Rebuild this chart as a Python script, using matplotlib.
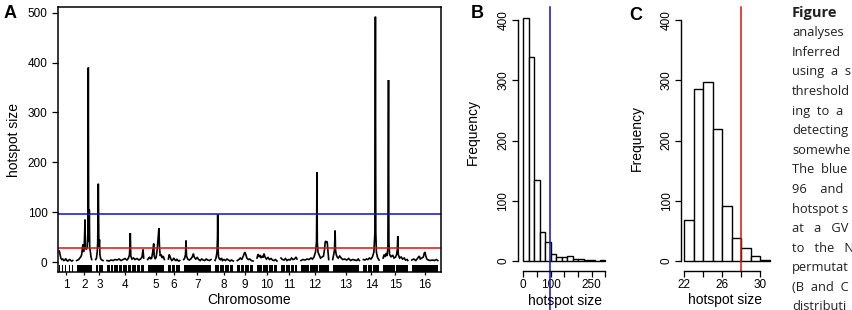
import matplotlib
matplotlib.use("Agg")
import matplotlib.pyplot as plt
import numpy as np

plt.rcParams["font.family"] = ["Liberation Sans", "DejaVu Sans"]

W, H = 852, 310

# ---- panel A: genome-wide hotspot profile ----
chrom_names = [str(i) for i in range(1, 17)]
chrom_len = [134, 150, 73, 367, 167, 113, 273, 183, 157, 200, 160, 277, 267, 157, 247, 260]
chrom_gap = 40
first_start = 13

# (position within chromosome, hotspot size)
profiles = [
    [(0, 22), (8, 15), (15, 8), (25, 5), (35, 6), (45, 3), (55, 4), (65, 7), (75, 3),
     (85, 2), (95, 4), (105, 5), (115, 3), (125, 2), (134, 3)],
    [(0, 3), (10, 4), (20, 5), (30, 8), (40, 10), (50, 15), (55, 25), (62, 35), (68, 20),
     (75, 30), (80, 60), (83, 85), (86, 30), (95, 25), (105, 30), (112, 60), (116, 390),
     (120, 40), (124, 60), (126, 105), (130, 30), (137, 20), (143, 10), (150, 5)],
    [(0, 5), (8, 8), (15, 20), (20, 40), (24, 100), (26, 157), (29, 95), (32, 30), (38, 45),
     (42, 15), (48, 8), (55, 5), (62, 4), (73, 3)],
    [(0, 3), (20, 2), (40, 4), (60, 3), (80, 5), (100, 4), (120, 6), (140, 3), (160, 5),
     (180, 7), (200, 4), (215, 8), (225, 15), (233, 58), (238, 12), (250, 6), (265, 8),
     (280, 5), (300, 7), (320, 4), (335, 6), (350, 10), (360, 25), (367, 8)],
    [(0, 5), (10, 8), (20, 10), (30, 6), (40, 8), (50, 20), (60, 37), (65, 12), (75, 6),
     (85, 10), (95, 25), (105, 50), (112, 68), (118, 30), (125, 12), (135, 15), (145, 8),
     (155, 12), (167, 5)],
    [(0, 6), (8, 15), (15, 12), (25, 6), (35, 3), (45, 5), (55, 8), (65, 4), (75, 3),
     (85, 6), (95, 3), (105, 2), (113, 3)],
    [(0, 5), (10, 8), (18, 15), (23, 43), (28, 12), (40, 6), (55, 4), (70, 6), (85, 10),
     (97, 17), (105, 10), (120, 6), (135, 9), (150, 5), (165, 3), (180, 6), (195, 4),
     (210, 3), (225, 6), (240, 4), (255, 3), (273, 5)],
    [(0, 3), (10, 8), (20, 20), (25, 50), (27, 95), (30, 30), (35, 10), (45, 6), (55, 4),
     (65, 8), (75, 3), (90, 5), (105, 3), (120, 6), (135, 4), (150, 2), (165, 4), (183, 2)],
    [(0, 3), (15, 5), (30, 8), (45, 5), (60, 12), (75, 20), (85, 15), (95, 8), (110, 5),
     (125, 6), (140, 3), (157, 2)],
    [(0, 8), (10, 16), (20, 10), (30, 14), (40, 8), (50, 12), (60, 9), (70, 17), (80, 10),
     (95, 6), (110, 9), (125, 5), (140, 7), (155, 4), (170, 3), (185, 5), (200, 2)],
    [(0, 8), (15, 5), (30, 4), (45, 7), (60, 3), (75, 5), (90, 4), (105, 8), (120, 5),
     (135, 6), (150, 10), (160, 6)],
    [(0, 3), (20, 5), (40, 4), (60, 6), (80, 5), (100, 8), (115, 6), (130, 10), (145, 20),
     (155, 40), (160, 180), (163, 40), (170, 20), (180, 15), (195, 8), (210, 10), (225, 12),
     (235, 25), (242, 40), (248, 42), (254, 40), (262, 41), (268, 25), (277, 5)],
    [(0, 5), (10, 15), (18, 25), (24, 63), (28, 25), (35, 15), (45, 10), (55, 8), (70, 12),
     (85, 8), (100, 5), (120, 6), (140, 4), (160, 7), (180, 3), (200, 5), (220, 4),
     (240, 3), (255, 6), (267, 3)],
    [(0, 5), (15, 4), (30, 6), (45, 5), (60, 8), (75, 6), (90, 10), (105, 20), (115, 60),
     (120, 492), (124, 60), (130, 20), (140, 10), (150, 6), (157, 4)],
    [(0, 8), (10, 15), (20, 10), (30, 18), (40, 12), (48, 30), (54, 365), (58, 40), (65, 15),
     (80, 10), (95, 14), (110, 8), (125, 10), (135, 15), (142, 25), (147, 52), (152, 15),
     (165, 8), (180, 10), (195, 6), (210, 8), (225, 4), (240, 5), (247, 3)],
    [(0, 4), (20, 6), (40, 3), (60, 8), (75, 12), (85, 6), (100, 8), (115, 10), (125, 18),
     (132, 20), (140, 12), (150, 6), (165, 4), (185, 3), (205, 4), (225, 3), (245, 5),
     (260, 3)],
]

# marker rug: stretches of dense markers within each chromosome
marker_blocks = [
    [(0, 5), (15, 20), (30, 34), (45, 50), (60, 64), (72, 76), (85, 90), (100, 104), (112, 116), (125, 134)],
    [(0, 60), (64, 150)],
    [(0, 25), (30, 50), (55, 73)],
    [(0, 30), (38, 60), (66, 110), (118, 150), (156, 200), (206, 240), (248, 290), (296, 330), (338, 367)],
    [(0, 40), (45, 80), (86, 120), (126, 167)],
    [(0, 30), (38, 70), (76, 113)],
    [(0, 60), (66, 130), (136, 200), (206, 273)],
    [(0, 40), (48, 90), (96, 140), (148, 183)],
    [(0, 30), (38, 70), (78, 120), (126, 157)],
    [(0, 50), (56, 110), (116, 160), (166, 200)],
    [(0, 40), (46, 90), (98, 130), (136, 160)],
    [(0, 80), (86, 170), (176, 277)],
    [(0, 60), (66, 120), (126, 180), (186, 267)],
    [(0, 40), (46, 90), (96, 157)],
    [(0, 120), (126, 247)],
    [(0, 50), (56, 110), (116, 170), (176, 220), (226, 260)],
]

blue_thr = 96
red_thr = 28

# ---- panel B: permutation histogram (hotspot size) ----
b_bins = [0, 20, 40, 60, 80, 100, 120, 140, 160, 180, 200, 220, 240, 260, 280, 300]
b_counts = [404, 339, 134, 48, 31, 12, 7, 7, 9, 3, 3, 1, 1, 0, 1]
b_ticks = [0, 50, 100, 150, 200, 250, 300]
b_ticklabels = ["0", "", "100", "", "", "250", ""]

# ---- panel C ----
c_bins = [22, 23, 24, 25, 26, 27, 28, 29, 30, 31]
c_counts = [68, 285, 297, 219, 92, 38, 21, 9, 2]
c_ticks = [22, 24, 26, 28, 30]
c_ticklabels = ["22", "", "26", "", "30"]

freq_ticks = [0, 100, 200, 300, 400]

# caption column, cut off by the right edge in the original
caption_lines = ["Figure", "analyses", "Inferred", "using  a  s", "threshold", "ing  to  a",
                 "detecting", "somewhe", "The  blue", "96    and", "hotspot s",
                 "at   a   GV", "to   the   N", "permutat", "(B  and  C", "distributi"]


def px(x, y):
    return x / W, 1 - y / H


fig = plt.figure(figsize=(W / 100, H / 100), dpi=100)

axA = fig.add_axes([58 / W, 38 / H, 383 / W, 265 / H])
starts = first_start + np.concatenate([[0], np.cumsum(chrom_len)[:-1]]) + chrom_gap * np.arange(16)
mids = starts + np.array(chrom_len) / 2
for s, prof, blocks in zip(starts, profiles, marker_blocks):
    p = np.array(prof, dtype=float)
    axA.plot(s + p[:, 0], p[:, 1], color="black", lw=1.2, solid_joinstyle="miter")
    axA.broken_barh([(s + a, b - a) for a, b in blocks], (-19.5, 13.5),
                    facecolors="black", edgecolor="none")
axA.axhline(blue_thr, color="#1010d0", lw=1.1)
axA.axhline(red_thr, color="#e01010", lw=1.1)
axA.set_xlim(0, 383 * 10)
axA.set_ylim(-20, 511.4)
axA.set_yticks([0, 100, 200, 300, 400, 500])
axA.set_xticks(mids)
axA.set_xticklabels(chrom_names)
axA.tick_params(axis="y", direction="out", length=4.5, width=0.9, pad=3, labelsize=8.5)
axA.tick_params(axis="x", direction="out", length=2.5, width=0.9, pad=2.5, labelsize=8.5)
for sp in axA.spines.values():
    sp.set_linewidth(1.1)

axB = fig.add_axes([517.8 / W, 39 / H, 92.6 / W, 261 / H])
axB.bar(b_bins[:-1], b_counts, width=np.diff(b_bins), align="edge",
        facecolor="white", edgecolor="black", lw=1.0)
axB.set_xlim(-20, 318)
axB.set_xticks(b_ticks)
axB.set_xticklabels(b_ticklabels)
axB.spines["bottom"].set_bounds(0, 300)
axB.axvline(blue_thr, ymin=-0.15, ymax=1.012, color="#1010d0", lw=1.1, clip_on=False)

axC = fig.add_axes([681.2 / W, 39 / H, 91.2 / W, 261 / H])
axC.bar(c_bins[:-1], c_counts, width=np.diff(c_bins), align="edge",
        facecolor="white", edgecolor="black", lw=1.0)
axC.set_xlim(21.7, 31.3)
axC.set_xticks(c_ticks)
axC.set_xticklabels(c_ticklabels)
axC.spines["bottom"].set_bounds(22, 30)
axC.axvline(red_thr, ymin=0, ymax=1.012, color="#e01010", lw=1.1, clip_on=False)

for ax in (axB, axC):
    ax.set_ylim(-16.6, 416.6)
    ax.set_yticks(freq_ticks)
    ax.spines["left"].set_bounds(0, 400)
    ax.spines["top"].set_visible(False)
    ax.spines["right"].set_visible(False)
    for sp in ("left", "bottom"):
        ax.spines[sp].set_linewidth(1.0)
    ax.tick_params(direction="out", length=4, width=0.9, labelsize=8.5, pad=2)
    ax.tick_params(axis="y", labelrotation=90)
    for lab in ax.get_yticklabels():
        lab.set_va("center")

fig.text(*px(14, 140), "hotspot size", rotation=90, ha="center", va="center", fontsize=10)
fig.text(*px(249.5, 300), "Chromosome", ha="center", va="center", fontsize=10)
fig.text(*px(473, 132), "Frequency", rotation=90, ha="center", va="center", fontsize=10)
fig.text(*px(565, 301), "hotspot size", ha="center", va="center", fontsize=10)
fig.text(*px(637, 138), "Frequency", rotation=90, ha="center", va="center", fontsize=10)
fig.text(*px(725.5, 300), "hotspot size", ha="center", va="center", fontsize=10)

for letter, x, y in [("A", 10, 14), ("B", 477, 14), ("C", 636, 15)]:
    fig.text(*px(x, y), letter, ha="center", va="center", fontsize=13, fontweight="bold")

for i, line in enumerate(caption_lines):
    fig.text(*px(792, 13 + 19.6 * i), line, ha="left", va="center",
             fontsize=10.5 if i == 0 else 9.3,
             family=["Open Sans", "DejaVu Sans"],
             fontweight="bold" if i == 0 else "normal", color="#231f20")

fig.savefig("out.png", dpi=100)
